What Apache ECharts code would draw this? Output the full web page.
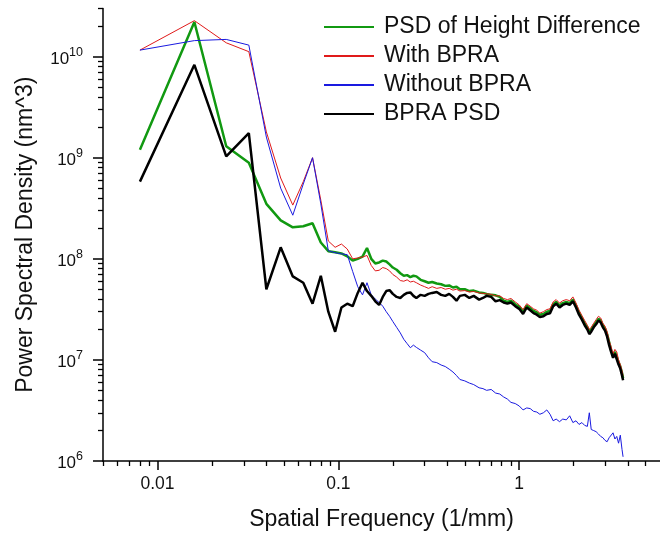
<!DOCTYPE html>
<html>
<head>
<meta charset="utf-8">
<script src="https://cdn.jsdelivr.net/npm/echarts@6.0.0/dist/echarts.min.js"></script>
<style>
  html, body { margin: 0; padding: 0; background: #fff; }
  #chart { width: 660px; height: 536px; }
</style>
</head>
<body>
<div id="chart"></div>
<script>
// Spatial frequency (1/mm)
const freq = [
  0.008, 0.016, 0.024, 0.032, 0.040, 0.048, 0.056, 0.064, 0.072, 0.080,
  0.088, 0.096, 0.104, 0.112, 0.120, 0.128, 0.136, 0.144, 0.152, 0.160,
  0.168, 0.176, 0.184, 0.192, 0.2, 0.21, 0.22, 0.23, 0.24, 0.25,
  0.26, 0.27, 0.285, 0.3, 0.315, 0.33, 0.35, 0.37, 0.39, 0.41,
  0.43, 0.45, 0.47, 0.5, 0.53, 0.56, 0.6, 0.63, 0.66, 0.7,
  0.74, 0.78, 0.82, 0.86, 0.9, 0.95, 1.0, 1.05, 1.1, 1.15,
  1.2, 1.25, 1.3, 1.36, 1.42, 1.48, 1.54, 1.6, 1.67, 1.74,
  1.82, 1.9, 1.98, 2.06, 2.14, 2.22, 2.3, 2.38, 2.44, 2.5,
  2.58, 2.66, 2.74, 2.82, 2.9, 2.98, 3.06, 3.14, 3.22, 3.3,
  3.38, 3.46, 3.54, 3.62, 3.7, 3.75
];

// PSD of Height Difference (green)
const psdHeightDiff = [
  1.2e9, 2.2e10, 1.3e9, 8.9e8, 3.5e8, 2.4e8, 2.05e8, 2.1e8, 2.25e8, 1.45e8,
  1.19e8, 1.16e8, 1.13e8, 1.06e8, 9.6e7, 1.0e8, 1.05e8, 1.28e8, 1.0e8, 9.0e7,
  9.2e7, 9.6e7, 9.4e7, 8.8e7, 8.2e7, 7.8e7, 7.2e7, 6.8e7, 6.9e7, 6.6e7,
  6.8e7, 6.7e7, 6.2e7, 6.0e7, 5.8e7, 5.9e7, 5.7e7, 5.6e7, 5.4e7, 5.45e7,
  5.2e7, 5.3e7, 5.0e7, 5.0e7, 4.8e7, 4.85e7, 4.65e7, 4.6e7, 4.5e7, 4.4e7,
  4.35e7, 4.2e7, 3.85e7, 3.75e7, 3.85e7, 3.55e7, 3.35e7, 3.0e7, 3.45e7, 3.25e7,
  3.05e7, 2.95e7, 2.8e7, 2.85e7, 3.0e7, 3.05e7, 3.55e7, 3.75e7, 3.45e7, 3.65e7,
  3.75e7, 3.65e7, 3.95e7, 3.45e7, 2.95e7, 2.6e7, 2.3e7, 2.1e7, 1.9e7, 2.0e7,
  2.2e7, 2.35e7, 2.55e7, 2.45e7, 2.2e7, 2.05e7, 1.8e7, 1.5e7, 1.25e7, 1.1e7,
  1.2e7, 1.15e7, 9.5e6, 8.6e6, 7.4e6, 6.6e6
];

// With BPRA (red)
const withBPRA = [
  1.16e10, 2.27e10, 1.37e10, 1.12e10, 1.8e9, 6.3e8, 3.4e8, 5.8e8, 1.0e9, 3.8e8,
  1.5e8, 1.3e8, 1.4e8, 1.25e8, 1.0e8, 1.02e8, 1.04e8, 1.08e8, 8.6e7, 7.6e7,
  7.7e7, 8.2e7, 8.0e7, 7.6e7, 7.0e7, 6.6e7, 6.1e7, 6.0e7, 6.2e7, 5.9e7,
  6.0e7, 5.8e7, 5.5e7, 5.3e7, 5.1e7, 5.3e7, 5.1e7, 5.2e7, 5.0e7, 5.1e7,
  4.9e7, 5.0e7, 4.8e7, 4.85e7, 4.7e7, 4.75e7, 4.6e7, 4.55e7, 4.5e7, 4.45e7,
  4.3e7, 4.3e7, 4.05e7, 3.95e7, 4.05e7, 3.75e7, 3.5e7, 3.15e7, 3.6e7, 3.4e7,
  3.2e7, 3.1e7, 2.9e7, 3.0e7, 3.15e7, 3.2e7, 3.75e7, 3.95e7, 3.65e7, 3.85e7,
  3.95e7, 3.85e7, 4.2e7, 3.65e7, 3.1e7, 2.75e7, 2.45e7, 2.2e7, 2.0e7, 2.1e7,
  2.3e7, 2.5e7, 2.7e7, 2.6e7, 2.3e7, 2.15e7, 1.9e7, 1.55e7, 1.35e7, 1.15e7,
  1.27e7, 1.2e7, 1.0e7, 9.0e6, 7.8e6, 7.0e6
];

// Without BPRA (blue)
const withoutBPRA = [
  1.16e10, 1.44e10, 1.48e10, 1.3e10, 1.6e9, 5.0e8, 2.7e8, 5.5e8, 1.0e9, 3.5e8,
  1.2e8, 1.15e8, 1.12e8, 1.1e8, 7.5e7, 5.3e7, 4.4e7, 5.8e7, 4.4e7, 4.0e7,
  3.7e7, 3.4e7, 3.0e7, 2.7e7, 2.4e7, 2.1e7, 1.85e7, 1.6e7, 1.45e7, 1.32e7,
  1.4e7, 1.33e7, 1.25e7, 1.18e7, 1.05e7, 9.6e6, 9.4e6, 8.9e6, 8.6e6, 8.1e6,
  7.6e6, 7.0e6, 6.4e6, 6.2e6, 5.9e6, 5.7e6, 5.3e6, 5.2e6, 5.0e6, 5.1e6,
  4.7e6, 4.6e6, 4.3e6, 4.1e6, 3.8e6, 3.7e6, 3.5e6, 3.2e6, 3.35e6, 3.3e6,
  3.1e6, 3.05e6, 2.9e6, 3.0e6, 3.2e6, 2.9e6, 2.5e6, 2.6e6, 2.45e6, 2.6e6,
  2.55e6, 2.8e6, 2.4e6, 2.5e6, 2.3e6, 2.4e6, 2.25e6, 2.2e6, 3.0e6, 2.05e6,
  2.0e6, 1.95e6, 1.85e6, 1.75e6, 1.7e6, 1.6e6, 1.55e6, 1.7e6, 1.75e6, 1.9e6,
  1.65e6, 1.75e6, 1.5e6, 1.8e6, 1.3e6, 1.1e6
];

// BPRA PSD (black)
const bpraPSD = [
  5.8e8, 8.3e9, 1.03e9, 1.75e9, 5.0e7, 1.3e8, 6.7e7, 5.8e7, 3.6e7, 6.8e7,
  3.0e7, 1.9e7, 3.3e7, 3.6e7, 3.4e7, 4.6e7, 5.8e7, 4.8e7, 4.3e7, 3.8e7,
  3.5e7, 4.2e7, 4.8e7, 4.9e7, 4.5e7, 4.2e7, 4.1e7, 4.4e7, 4.6e7, 4.65e7,
  4.3e7, 4.1e7, 4.4e7, 4.3e7, 4.5e7, 4.6e7, 4.7e7, 4.4e7, 4.3e7, 4.5e7,
  4.2e7, 3.85e7, 4.3e7, 4.4e7, 4.1e7, 4.3e7, 3.95e7, 4.1e7, 4.3e7, 4.2e7,
  3.8e7, 3.9e7, 3.7e7, 3.6e7, 3.7e7, 3.4e7, 3.2e7, 2.85e7, 3.3e7, 3.1e7,
  2.9e7, 2.8e7, 2.65e7, 2.7e7, 2.85e7, 2.9e7, 3.4e7, 3.6e7, 3.3e7, 3.5e7,
  3.6e7, 3.5e7, 3.8e7, 3.3e7, 2.8e7, 2.5e7, 2.2e7, 2.0e7, 1.8e7, 1.9e7,
  2.1e7, 2.25e7, 2.45e7, 2.35e7, 2.1e7, 1.95e7, 1.7e7, 1.4e7, 1.2e7, 1.05e7,
  1.15e7, 1.1e7, 9.0e6, 8.2e6, 7.0e6, 6.3e6
];

const seriesNames = ['PSD of Height Difference', 'With BPRA', 'Without BPRA', 'BPRA PSD'];

// Tick values
const xMajorTicks = [0.01, 0.1, 1];
const xMinorTicks = [0.005, 0.006, 0.007, 0.008, 0.009,
  0.02, 0.03, 0.04, 0.05, 0.06, 0.07, 0.08, 0.09,
  0.2, 0.3, 0.4, 0.5, 0.6, 0.7, 0.8, 0.9,
  2, 3, 4, 5];
const yMajorTicks = [1e6, 1e7, 1e8, 1e9, 1e10];
const yMinorTicks = [
  2e6, 3e6, 4e6, 5e6, 6e6, 7e6, 8e6, 9e6,
  2e7, 3e7, 4e7, 5e7, 6e7, 7e7, 8e7, 9e7,
  2e8, 3e8, 4e8, 5e8, 6e8, 7e8, 8e8, 9e8,
  2e9, 3e9, 4e9, 5e9, 6e9, 7e9, 8e9, 9e9,
  2e10, 3e10];

const FONT = 'Liberation Sans, Arial, Helvetica, sans-serif';
const TXT = '#111';
const X_MIN = 0.005, X_MAX = 6, Y_MIN = 1e6, Y_MAX = 3e10;

function pairs(vals) { return freq.map((f, i) => [f, vals[i]]); }

const chart = echarts.init(document.getElementById('chart'), null, { renderer: 'canvas' });

const axisLineStyle = { color: '#000', width: 1.5 };

chart.setOption({
  animation: false,
  backgroundColor: '#fff',
  textStyle: { fontFamily: FONT },
  grid: { left: 103, right: 0, top: 8.4, bottom: 73.5, containLabel: false },
  legend: {
    orient: 'vertical',
    left: 318,
    top: 10,
    itemWidth: 50,
    itemHeight: 14,
    itemGap: 5,
    data: seriesNames,
    itemStyle: { opacity: 0 },
    textStyle: { fontFamily: FONT, fontSize: 23, color: TXT, lineHeight: 24, padding: [0, 0, 0, 5] }
  },
  xAxis: [
    {
      type: 'log', min: X_MIN, max: X_MAX, position: 'bottom',
      name: 'Spatial Frequency (1/mm)', nameLocation: 'middle', nameGap: 47,
      nameTextStyle: { fontFamily: FONT, fontSize: 23, color: TXT },
      axisLine: { show: true, lineStyle: axisLineStyle },
      axisTick: { show: true, inside: false, length: 9, customValues: xMajorTicks, lineStyle: { color: '#000', width: 1.5 } },
      axisLabel: {
        show: true, customValues: xMajorTicks, margin: 14,
        fontFamily: FONT, fontSize: 17.5, color: TXT,
        formatter: v => String(+(+v).toPrecision(3))
      },
      splitLine: { show: false }
    },
    {
      type: 'log', min: X_MIN, max: X_MAX, position: 'bottom', offset: 0,
      axisLine: { show: false },
      axisTick: { show: true, inside: false, length: 5, customValues: xMinorTicks, lineStyle: { color: '#000', width: 1.3 } },
      axisLabel: { show: false },
      splitLine: { show: false }
    }
  ],
  yAxis: [
    {
      type: 'log', min: Y_MIN, max: Y_MAX, position: 'left',
      name: 'Power Spectral Density (nm^3)', nameLocation: 'middle', nameGap: 66,
      nameTextStyle: { fontFamily: FONT, fontSize: 23, color: TXT },
      axisLine: { show: true, lineStyle: axisLineStyle },
      axisTick: { show: true, inside: false, length: 10, customValues: yMajorTicks, lineStyle: { color: '#000', width: 1.5 } },
      axisLabel: {
        show: true, customValues: yMajorTicks, margin: 20,
        formatter: v => '{b|10}{s|' + Math.round(Math.log10(v)) + '}',
        rich: {
          b: { fontFamily: FONT, fontSize: 17, color: TXT, lineHeight: 22, verticalAlign: 'bottom' },
          s: { fontFamily: FONT, fontSize: 12.5, color: TXT, lineHeight: 22, verticalAlign: 'top', padding: [0, 0, 6, 0] }
        }
      },
      splitLine: { show: false }
    },
    {
      type: 'log', min: Y_MIN, max: Y_MAX, position: 'left', offset: 0,
      axisLine: { show: false },
      axisTick: { show: true, inside: false, length: 5, customValues: yMinorTicks, lineStyle: { color: '#000', width: 1.3 } },
      axisLabel: { show: false },
      splitLine: { show: false }
    }
  ],
  series: [
    { name: seriesNames[0], type: 'line', data: pairs(psdHeightDiff), symbol: 'none', color: '#119911',
      lineStyle: { color: '#119911', width: 2.5 }, z: 2 },
    { name: seriesNames[1], type: 'line', data: pairs(withBPRA), symbol: 'none', color: '#e01a1a',
      lineStyle: { color: '#e01a1a', width: 1 }, z: 3 },
    { name: seriesNames[2], type: 'line', data: pairs(withoutBPRA), symbol: 'none', color: '#1a1ae0',
      lineStyle: { color: '#1a1ae0', width: 1 }, z: 4 },
    { name: seriesNames[3], type: 'line', data: pairs(bpraPSD), symbol: 'none', color: '#000000',
      lineStyle: { color: '#000000', width: 2.5 }, z: 5 }
  ]
});
</script>
</body>
</html>
